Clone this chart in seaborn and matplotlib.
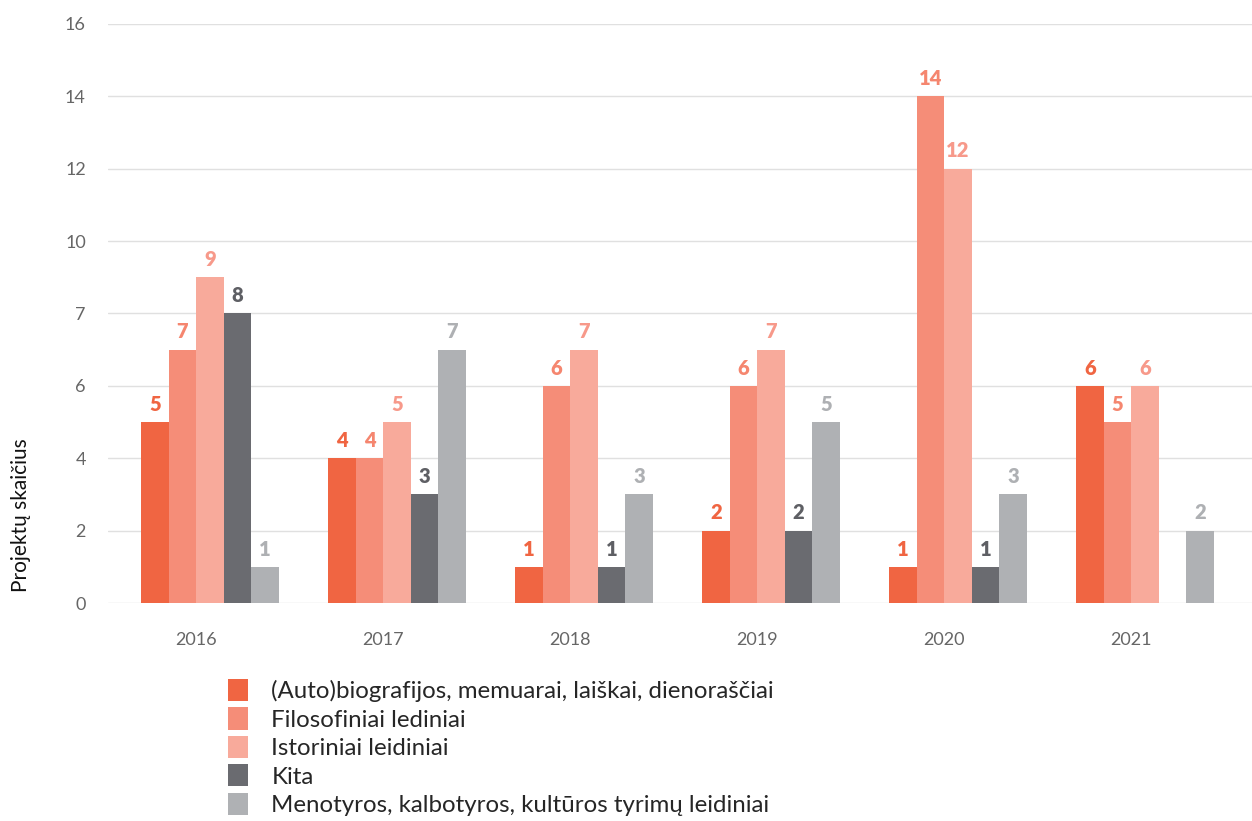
import matplotlib
matplotlib.use("Agg")
import matplotlib.pyplot as plt
from matplotlib.patches import Patch
import seaborn as sns
import pandas as pd

years = ["2016", "2017", "2018", "2019", "2020", "2021"]
categories = [
    "(Auto)biografijos, memuarai, laiškai, dienoraščiai",
    "Filosofiniai lediniai",
    "Istoriniai leidiniai",
    "Kita",
    "Menotyros, kalbotyros, kultūros tyrimų leidiniai",
]
autobiografijos = [5, 4, 1, 2, 1, 6]
filosofiniai = [7, 4, 6, 6, 14, 5]
istoriniai = [9, 5, 7, 7, 12, 6]
kita = [8, 3, 1, 2, 1, 0]
menotyros = [1, 7, 3, 5, 3, 2]
y_ticks = [0, 2, 4, 6, 8, 10, 12, 14, 16]
y_tick_labels = ["0", "2", "4", "6", "7", "10", "12", "14", "16"]

colors = ["#F06542", "#F58D78", "#F8AA9B", "#6A6B70", "#AFB1B4"]
label_colors = ["#F06542", "#F5866F", "#F7998A", "#5E5F64", "#AEB0B3"]

series = [autobiografijos, filosofiniai, istoriniai, kita, menotyros]
rows = []
for cat, vals in zip(categories, series):
    for yr, v in zip(years, vals):
        rows.append({"Metai": yr, "Kategorija": cat, "Projektai": v})
df = pd.DataFrame(rows)

sns.set_theme(style="white")
plt.rcParams["font.family"] = ["Lato", "DejaVu Sans"]

fig = plt.figure(figsize=(12.52, 8.21), dpi=100)
ax = fig.add_axes([0.0863, 0.2655, 0.9137, 0.7053])

bar_width = 0.735
sns.barplot(
    data=df, x="Metai", y="Projektai", hue="Kategorija",
    order=years, hue_order=categories, palette=colors,
    width=bar_width, saturation=1, ax=ax, legend=False, errorbar=None,
    linewidth=0, edgecolor="none",
)

for container, col in zip(ax.containers, label_colors):
    labels = [f"{int(b.get_height())}" if b.get_height() > 0 else "" for b in container]
    ax.bar_label(container, labels=labels, padding=6, color=col,
                 fontsize=14.5, fontweight="heavy")

# year labels sit half a bar left of each group's centre
shift = bar_width / len(categories) / 2
ax.set_xticks([i - shift for i in range(len(years))], years)
ax.set_xlim(-0.545, 5.572)
ax.set_ylim(0, 16)
ax.set_yticks(y_ticks)
ax.set_yticklabels(y_tick_labels)
ax.yaxis.grid(True, color="#E0E0E0", linewidth=1)
ax.set_axisbelow(True)
for s in ax.spines.values():
    s.set_visible(False)
ax.tick_params(axis="y", length=0, pad=16, labelsize=13, labelcolor="#666666")
ax.tick_params(axis="x", length=0, pad=21, labelsize=13, labelcolor="#666666")
ax.set_xlabel("")
ax.set_ylabel("")

fig.text(0.017, 0.372, "Projektų skaičius", rotation=90, ha="center", va="center",
         fontsize=15, color="#111111")

handles = [Patch(facecolor=c, edgecolor="none") for c in colors]
fig.legend(handles, categories, loc="upper left",
           bbox_to_anchor=(228 / 1252, 1 - 679 / 821), frameon=False,
           fontsize=17.3, handlelength=0.85, handleheight=1.05, handletextpad=0.95,
           labelspacing=0.21, borderaxespad=0, borderpad=0)

fig.savefig("out.png", dpi=100)
